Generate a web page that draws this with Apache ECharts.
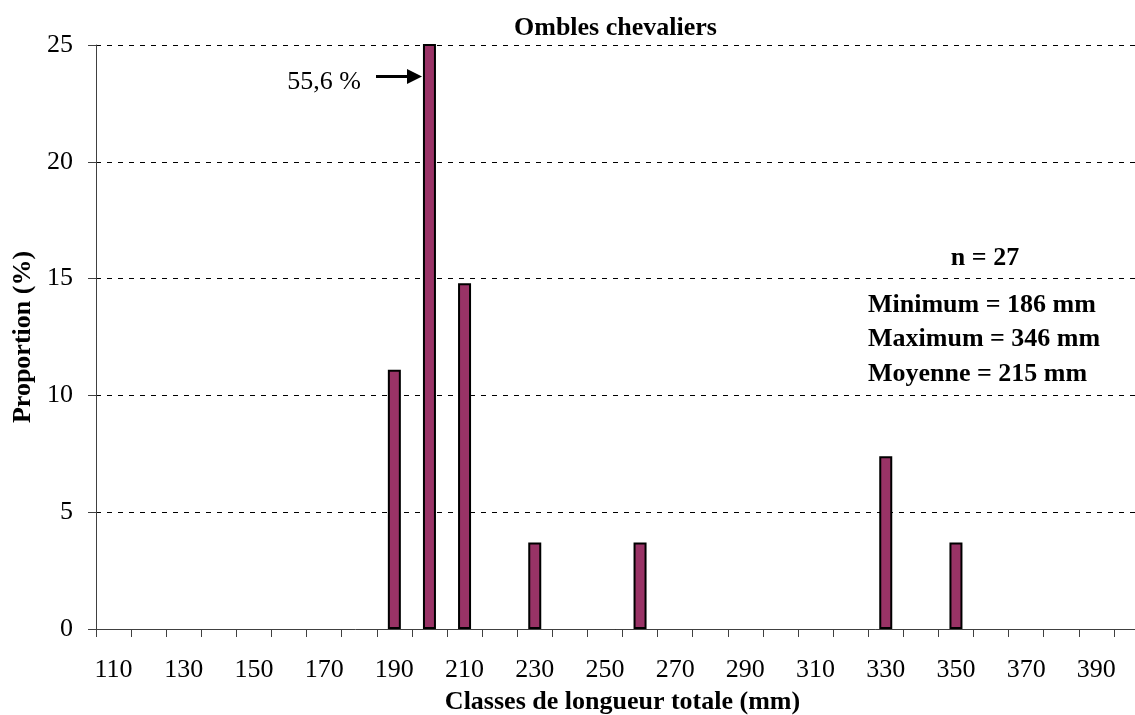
<!DOCTYPE html>
<html>
<head>
<meta charset="utf-8">
<script src="https://cdn.jsdelivr.net/npm/echarts@6/dist/echarts.min.js"></script>
<style>
  html, body { margin: 0; padding: 0; background: #fff; }
  #chart { width: 1135px; height: 715px; }
</style>
</head>
<body>
<div id="chart"></div>
<script>
// classes de longueur (mm), 110 .. 400
const classes = ['110', '120', '130', '140', '150', '160', '170', '180', '190', '200',
  '210', '220', '230', '240', '250', '260', '270', '280', '290', '300',
  '310', '320', '330', '340', '350', '360', '370', '380', '390', '400']
// proportion (%) par classe
const proportion = [0, 0, 0, 0, 0, 0, 0, 0, 11.1, 55.6,
  14.8, 0, 3.7, 0, 0, 3.7, 0, 0, 0, 0,
  0, 0, 7.4, 0, 3.7, 0, 0, 0, 0, 0]
const yTicks = [0, 5, 10, 15, 20, 25]
const statLines = ['Minimum = 186 mm', 'Maximum = 346 mm', 'Moyenne = 215 mm']

const serif = "'Liberation Serif', 'Times New Roman', serif"
const chart = echarts.init(document.getElementById('chart'))

// empty classes draw nothing (no flat bordered bar)
const barData = proportion.map((v) => (v === 0 ? '-' : v))

const option = {
  animation: false,
  backgroundColor: '#fff',
  title: {
    text: 'Ombles chevaliers',
    left: 514,
    top: 15,
    padding: 0,
    textStyle: { fontFamily: serif, fontSize: 26, fontWeight: 'bold', color: '#000' }
  },
  grid: {
    left: 96,
    right: -14,
    top: 45,
    bottom: 86,
    containLabel: false,
    outerBoundsMode: 'none'
  },
  xAxis: {
    type: 'category',
    data: classes,
    name: 'Classes de longueur totale (mm)',
    nameLocation: 'middle',
    nameGap: 60,
    nameTextStyle: { fontFamily: serif, fontSize: 26, fontWeight: 'bold', color: '#000' },
    axisLine: { show: true, lineStyle: { color: '#404040', width: 1 } },
    axisTick: { show: true, interval: 0, length: 8, lineStyle: { color: '#404040' } },
    axisLabel: {
      interval: 1,
      margin: 28,
      fontFamily: serif,
      fontSize: 26,
      color: '#000'
    },
    splitLine: { show: false }
  },
  yAxis: {
    type: 'value',
    min: yTicks[0],
    max: yTicks[yTicks.length - 1],
    interval: 5,
    name: 'Proportion (%)',
    nameLocation: 'middle',
    nameGap: 57,
    nameRotate: 90,
    nameTextStyle: { fontFamily: serif, fontSize: 26, fontWeight: 'bold', color: '#000' },
    axisLine: { show: true, lineStyle: { color: '#404040', width: 1 } },
    axisTick: { show: true, length: 8, lineStyle: { color: '#404040' } },
    axisLabel: { margin: 23, fontFamily: serif, fontSize: 26, color: '#000' },
    splitLine: { show: true, lineStyle: { color: '#000', width: 1, type: [5, 6] } }
  },
  series: [
    {
      type: 'bar',
      data: barData,
      barWidth: 13,
      clip: true,
      itemStyle: { color: '#993366', borderColor: '#000', borderWidth: 2 }
    }
  ],
  graphic: [
    {
      type: 'text',
      right: 1135 - 361,
      top: 69,
      style: { text: '55,6 %', font: '26px ' + serif, fill: '#000' }
    },
    {
      type: 'line',
      shape: { x1: 376, y1: 76.5, x2: 410, y2: 76.5 },
      style: { stroke: '#000', lineWidth: 3 }
    },
    {
      type: 'polygon',
      shape: { points: [[407, 69], [422, 76.5], [407, 84]] },
      style: { fill: '#000' }
    },
    {
      type: 'text',
      x: 985,
      y: 245,
      style: {
        text: 'n = 27',
        font: 'bold 26px ' + serif,
        fill: '#000',
        align: 'center',
        verticalAlign: 'top'
      }
    },
    {
      type: 'text',
      x: 868,
      y: 288,
      style: {
        text: statLines.join('\n'),
        font: 'bold 26px ' + serif,
        lineHeight: 34.5,
        fill: '#000',
        align: 'left',
        verticalAlign: 'top'
      }
    }
  ]
}

chart.setOption(option)
</script>
</body>
</html>
